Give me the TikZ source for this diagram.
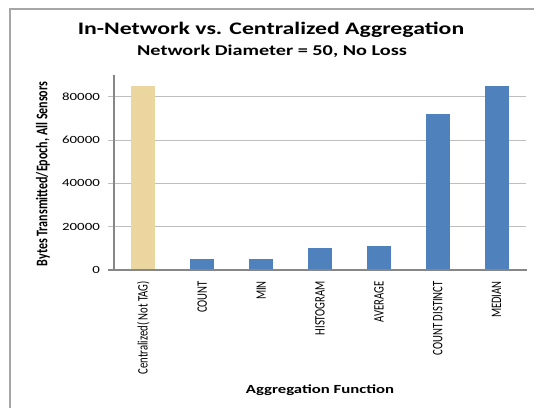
\documentclass[tikz,border=0pt]{standalone}
\usepackage{fontspec}
\setmainfont{Carlito}
\usepackage{graphicx}
\definecolor{barblue}{HTML}{4F81BD}
\definecolor{bartan}{HTML}{EAD69E}
\definecolor{gridgray}{HTML}{BEBEBE}
\definecolor{axisgray}{HTML}{878787}
\definecolor{framegray}{HTML}{A6A6A6}
\newcommand{\wide}[1]{\scalebox{1.35}[1]{#1}}
\newcommand{\wideup}[1]{\scalebox{1.35}[1]{\rotatebox{90}{#1}}}
\begin{document}
\begin{tikzpicture}[x=1pt,y=-1pt,
  gridline/.style={draw=gridgray,line width=1.2pt},
  axisline/.style={draw=axisgray,line width=1.8pt},
  bluebar/.style={fill=barblue,draw=none},
  tanbar/.style={fill=bartan,draw=none},
  ticklabel/.style={anchor=east,inner sep=0pt,font=\fontsize{11}{13}\selectfont},
  catlabel/.style={anchor=north,inner sep=0pt,font=\fontsize{10.7}{12}\selectfont},
  ]
\useasboundingbox (0,0) rectangle (534,408);
\fill[white] (0,0) rectangle (534,408);
% frame
\draw[framegray,line width=1.5pt] (10,408) -- (10,9) -- (534,9);
% titles
\node[font=\bfseries\fontsize{17.6}{20}\selectfont] (title) at (271,30) {\wide{In-Network vs. Centralized Aggregation}};
\node[font=\bfseries\fontsize{15}{17}\selectfont] (subtitle) at (272,51) {\wide{Network Diameter = 50, No Loss}};
% gridlines (values in thousands)
\foreach \v/\lab in {20/g2,40/g4,60/g6,80/g8}{
  \draw[gridline] (108,{270-\v*2.165}) -- (526,{270-\v*2.165});
  \node[ticklabel] (\lab) at (100,{270-\v*2.165}) {\wide{\v000}};
}
\node[ticklabel] (g0) at (100,270) {\wide{0}};
% bars
\def\cw{58.857}
\foreach \i/\v/\sty in {0/85/tanbar,1/5/bluebar,2/5/bluebar,3/10/bluebar,4/11/bluebar,5/72/bluebar,6/85/bluebar}{
  \path[\sty] ({114+\cw*(\i+0.5)-12},270) rectangle ({114+\cw*(\i+0.5)+12},{270-\v*2.165});
}
% axes
\draw[axisline] (114,75) -- (114,270.9);
\draw[axisline] (108,270) -- (527,270);
% category labels
\foreach \i/\t/\nm in {0/{Centralized( Not TAG)}/c0,1/COUNT/c1,2/MIN/c2,3/HISTOGRAM/c3,4/AVERAGE/c4,5/COUNT DISTINCT/c5,6/MEDIAN/c6}{
  \node[catlabel] (\nm) at ({114+\cw*(\i+0.5)},281) {\wideup{\t}};
}
% axis titles
\node[font=\bfseries\fontsize{12}{14}\selectfont] (ytitle) at (43,174) {\wideup{Bytes Transmitted/Epoch, All Sensors}};
\node[font=\bfseries\fontsize{12.4}{14}\selectfont] (xtitle) at (320,390) {\wide{Aggregation Function}};
\end{tikzpicture}
\end{document}
